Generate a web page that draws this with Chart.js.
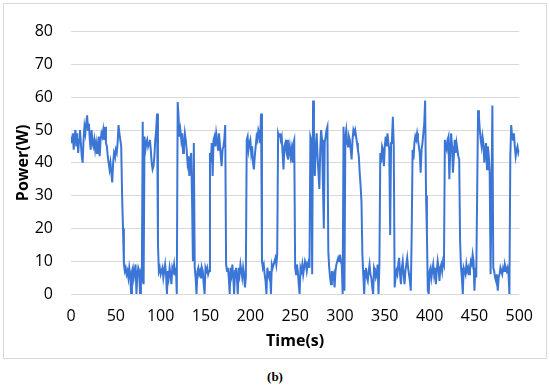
<!DOCTYPE html>
<html>
<head>
<meta charset="utf-8">
<script src="https://cdn.jsdelivr.net/npm/chart.js@4.4.1/dist/chart.umd.min.js"></script>
<style>
    body { margin: 0; background: #fff; width: 550px; height: 386px; position: relative; overflow: hidden; }
    #box { position: absolute; left: 3px; top: 3px; width: 542px; height: 354px; border: 1px solid #d9d9d9; }
    #caption { position: absolute; left: 0; width: 550px; top: 369px; text-align: center;
               font: bold 13px "Liberation Serif", "DejaVu Serif", serif; color: #000; }
</style>
</head>
<body>
<div id="box"><canvas id="powerChart" width="542" height="354"></canvas></div>
<div id="caption">(b)</div>
<script>
// Power samples, one per second (t = 0 .. 500 s)
const powerW = [
    48, 46, 49, 44, 48, 50, 45, 49, 43, 47,
    50, 46, 42, 40, 47, 51, 49, 52, 54.5, 50,
    52, 47, 44, 50, 46, 45, 47, 44, 46, 43,
    46, 48, 42, 47, 49, 48, 50, 47, 51, 46,
    45, 42, 40, 38, 40, 37, 34, 40, 43, 42,
    44, 43, 46, 51.5, 49, 47, 45, 30, 20, 9,
    7, 8, 6, 7, 5, 8, 6, 0, 7, 8,
    5, 7, 9, 0, 6, 8, 7, 0, 6, 5,
    52.5, 3, 48, 44, 46, 47, 45, 46, 47, 44,
    40, 38, 39, 42, 47, 50, 55, 15, 7, 8,
    6, 7, 8, 5, 7, 9, 6, 0, 7, 5,
    8, 6, 3, 8, 7, 9, 6, 8, 0, 58.5,
    54, 48, 50, 47, 49, 43, 45, 49, 47, 44,
    40, 42, 36, 41, 43, 29, 10, 46, 8, 5,
    0, 7, 8, 6, 7, 5, 8, 7, 3, 0,
    8, 7, 8, 6, 7, 43, 40, 46, 36, 47,
    48, 45, 49, 47, 44, 49, 46, 42, 39, 44,
    45, 47, 51.5, 9, 7, 8, 5, 0, 8, 6,
    9, 5, 0, 7, 8, 5, 0, 8, 6, 9,
    7, 5, 8, 6, 2, 5, 47, 48, 44, 46,
    47, 43, 45, 40, 38, 42, 45, 48, 47, 50,
    49, 46, 55, 10, 8, 9, 6, 4, 0, 8,
    6, 5, 7, 0, 9, 8, 9, 10, 11, 9,
    12, 49, 48, 49, 47, 48, 43, 38, 45, 46,
    44, 47, 41, 43, 45, 42, 44, 40, 46, 47,
    8, 6, 9, 7, 3, 0, 8, 7, 9, 6,
    8, 10, 9, 7, 9, 10, 8, 48, 47, 6,
    59, 44, 36, 45, 49, 42, 37, 32, 44, 50,
    47, 33, 20, 46, 48, 50, 51, 13, 8, 5,
    3, 7, 5, 6, 2, 7, 9, 10, 11, 10,
    12, 10, 9, 0, 51, 1, 48, 50, 46, 45,
    48, 47, 44, 41, 47, 50, 49, 50, 48, 46,
    44, 42, 37, 33, 28, 12, 6, 0, 7, 8,
    5, 4, 7, 9, 6, 5, 2, 0, 8, 7,
    5, 6, 9, 0, 9, 43, 40, 45, 44, 39,
    45, 48, 45, 49, 46, 44, 18, 46, 47, 54,
    45, 2, 5, 7, 6, 9, 11, 6, 3, 8,
    10, 6, 3, 7, 9, 11, 8, 6, 4, 1,
    18, 44, 41, 46, 48, 47, 49, 47, 45, 43,
    37, 44, 46, 49, 52, 59, 30, 18, 1, 0,
    7, 8, 5, 7, 9, 6, 8, 3, 7, 10,
    8, 4, 8, 9, 7, 10, 9, 47, 45, 44,
    47, 48, 35, 44, 49, 45, 37, 42, 47, 43,
    46, 44, 42, 41, 16, 8, 5, 0, 8, 7,
    6, 9, 7, 8, 6, 8, 10, 9, 12, 10,
    1, 8, 5, 30, 56, 54, 50, 47, 45, 48,
    46, 40, 44, 46, 38, 45, 42, 37, 6, 30,
    57.5, 8, 7, 5, 4, 6, 1, 5, 6, 8,
    7, 6, 8, 7, 9, 8, 7, 8, 6, 0,
    42, 51.5, 48, 47, 49, 45, 42, 44, 45, 43,
    44
];
const SAMPLE_STEP_S = 1;
const timeS = powerW.map((_, i) => i * SAMPLE_STEP_S);

const xRange = [0, 500];
const xStep = 50;
const yRange = [0, 80];
const yStep = 10;

const FONT = '"Open Sans", "Liberation Sans", sans-serif';

const ctx = document.getElementById('powerChart').getContext('2d');
new Chart(ctx, {
    type: 'line',
    data: {
        datasets: [{
            label: 'Power',
            data: timeS.map((t, i) => ({ x: t, y: powerW[i] })),
            borderColor: '#3b76d6',
            borderWidth: 2,
            pointRadius: 0,
            tension: 0,
            fill: false
        }]
    },
    options: {
        responsive: false,
        animation: false,
        devicePixelRatio: 1,
        layout: { padding: { top: 13, right: 20, left: 0, bottom: 0 } },
        plugins: { legend: { display: false }, tooltip: { enabled: false } },
        scales: {
            x: {
                type: 'linear',
                min: xRange[0],
                max: xRange[1],
                grid: { display: false, drawTicks: false },
                border: { display: false },
                ticks: { stepSize: xStep, padding: 13, color: '#000', font: { family: FONT, size: 16 } },
                title: { display: true, text: 'Time(s)', color: '#000', padding: { top: 0, bottom: 7 },
                         font: { family: FONT, size: 16, weight: 'bold' } },
                afterFit: (scale) => { scale.height = 64; }
            },
            y: {
                min: yRange[0],
                max: yRange[1],
                grid: { color: '#d9d9d9', lineWidth: 1, drawTicks: false },
                border: { display: false },
                ticks: { stepSize: yStep, padding: 18, color: '#000', font: { family: FONT, size: 16 } },
                title: { display: true, text: 'Power(W)', color: '#000', padding: { top: 10, bottom: 0 },
                         font: { family: FONT, size: 16, weight: 'bold' } },
                afterFit: (scale) => { scale.width = 67; }
            }
        }
    }
});
</script>
</body>
</html>
